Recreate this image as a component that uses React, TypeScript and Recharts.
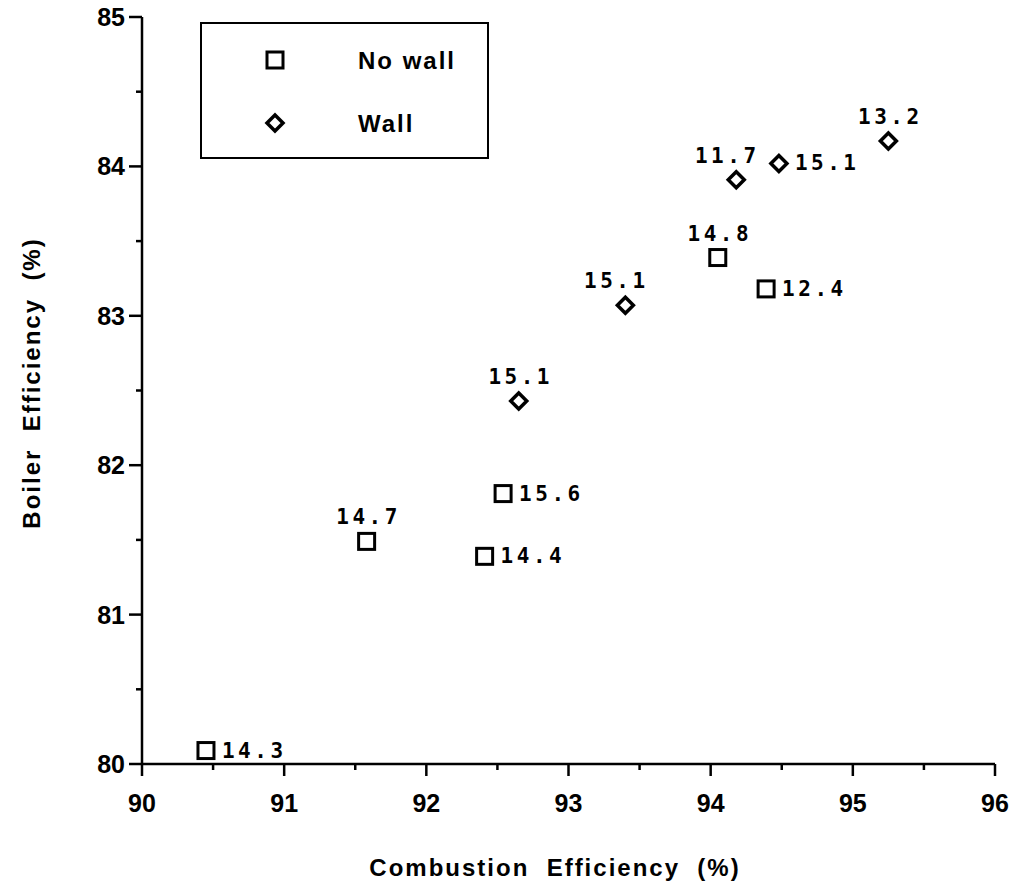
import { ScatterChart, Scatter, XAxis, YAxis } from 'recharts';

// Combustion efficiency (%) vs boiler efficiency (%), tagged with the excess-air reading
const noWallX = [90.45, 91.58, 92.41, 92.54, 94.05, 94.39];
const noWallY = [80.09, 81.49, 81.39, 81.81, 83.39, 83.18];
const noWallTag = ['14.3', '14.7', '14.4', '15.6', '14.8', '12.4'];

const wallX = [92.65, 93.4, 94.18, 94.48, 95.25];
const wallY = [82.43, 83.07, 83.91, 84.02, 84.17];
const wallTag = ['15.1', '15.1', '11.7', '15.1', '13.2'];

const xTicks = [90, 90.5, 91, 91.5, 92, 92.5, 93, 93.5, 94, 94.5, 95, 95.5, 96];
const yTicks = [80, 80.5, 81, 81.5, 82, 82.5, 83, 83.5, 84, 84.5, 85];

// where each tag sits relative to its marker
const noWallSide = ['right', 'top', 'right', 'right', 'top', 'right'];
const wallSide = ['top', 'topLeft', 'topLeft', 'right', 'top', 'top'];

const noWall = noWallX.map((x, i) => ({ x, y: noWallY[i], tag: noWallTag[i] }));
const wall = wallX.map((x, i) => ({ x, y: wallY[i], tag: wallTag[i] }));

const SANS = '"Liberation Sans", Arial, sans-serif';
const MONO = '"DejaVu Sans Mono", monospace';

const Tag = ({ cx, cy, text, side }: any) => {
  const common = {
    fontFamily: MONO,
    fontWeight: 700,
    fontSize: 21,
    letterSpacing: 3.5,
    fill: '#000',
  };
  if (side === 'right') {
    return (
      <text x={cx + 16} y={cy + 7} textAnchor="start" {...common}>
        {text}
      </text>
    );
  }
  const dx = side === 'topLeft' ? -9 : 2;
  return (
    <text x={cx + dx} y={cy - 17} textAnchor="middle" {...common}>
      {text}
    </text>
  );
};

const SquareMark = ({ cx, cy }: { cx: number; cy: number }) => (
  <rect x={cx - 8} y={cy - 8} width={16} height={16} fill="#fff" stroke="#000" strokeWidth={3} />
);

const DiamondMark = ({ cx, cy }: { cx: number; cy: number }) => (
  <path
    d={`M${cx},${cy - 8} L${cx + 8},${cy} L${cx},${cy + 8} L${cx - 8},${cy} Z`}
    fill="#fff"
    stroke="#000"
    strokeWidth={3.5}
  />
);

const noWallShape = (props: any) => (
  <g>
    <SquareMark cx={props.cx} cy={props.cy} />
    <Tag cx={props.cx} cy={props.cy} text={props.payload.tag} side={noWallSide[props.index]} />
  </g>
);

const wallShape = (props: any) => (
  <g>
    <DiamondMark cx={props.cx} cy={props.cy} />
    <Tag cx={props.cx} cy={props.cy} text={props.payload.tag} side={wallSide[props.index]} />
  </g>
);

const XTick = ({ x, y, payload }: any) => {
  const major = Number.isInteger(payload.value);
  return (
    <g>
      <line x1={x} y1={y} x2={x} y2={y + (major ? 12 : 6)} stroke="#000" strokeWidth={2.5} />
      {major && (
        <text x={x} y={y + 48} textAnchor="middle" fontFamily={SANS} fontWeight={700} fontSize={25} fill="#000">
          {payload.value}
        </text>
      )}
    </g>
  );
};

const YTick = ({ x, y, payload }: any) => {
  const major = Number.isInteger(payload.value);
  return (
    <g>
      <line x1={x} y1={y} x2={x - (major ? 13 : 6)} y2={y} stroke="#000" strokeWidth={2.5} />
      {major && (
        <text x={x - 17} y={y + 9} textAnchor="end" fontFamily={SANS} fontWeight={700} fontSize={25} fill="#000">
          {payload.value}
        </text>
      )}
    </g>
  );
};

// legend box in the upper left corner of the plot
const LegendBox = () => (
  <g>
    <rect x={201} y={23} width={287} height={135} fill="#fff" stroke="#000" strokeWidth={2} />
    <SquareMark cx={275} cy={60} />
    <DiamondMark cx={275} cy={123} />
    <text x={358} y={69} fontFamily={SANS} fontWeight={700} fontSize={24} letterSpacing={2} fill="#000">
      No wall
    </text>
    <text x={358} y={132} fontFamily={SANS} fontWeight={700} fontSize={24} letterSpacing={2} fill="#000">
      Wall
    </text>
  </g>
);

export default function App() {
  return (
    <div style={{ width: 1016, height: 890, background: '#fff', position: 'relative' }}>
      <style>{'body { margin: 0; }'}</style>
      <ScatterChart width={1016} height={890} margin={{ top: 17, right: 21, bottom: 125, left: 141 }}>
        <XAxis
          type="number"
          dataKey="x"
          domain={[90, 96]}
          ticks={xTicks}
          interval={0}
          height={1}
          tickSize={0}
          tickMargin={0}
          tickLine={false}
          axisLine={{ stroke: '#000', strokeWidth: 2.5 }}
          tick={<XTick />}
          allowDataOverflow
        />
        <YAxis
          type="number"
          dataKey="y"
          domain={[80, 85]}
          ticks={yTicks}
          interval={0}
          width={1}
          tickSize={0}
          tickMargin={0}
          tickLine={false}
          axisLine={{ stroke: '#000', strokeWidth: 2.5 }}
          tick={<YTick />}
          allowDataOverflow
        />
        <LegendBox />
        <Scatter name="No wall" data={noWall} shape={noWallShape} isAnimationActive={false} />
        <Scatter name="Wall" data={wall} shape={wallShape} isAnimationActive={false} />
        <text x={555} y={876} textAnchor="middle" fontFamily={SANS} fontWeight={700} fontSize={24} letterSpacing={2} fill="#000" style={{ whiteSpace: 'pre' }}>
          {'Combustion  Efficiency  (%)'}
        </text>
        <text
          x={40}
          y={383}
          textAnchor="middle"
          transform="rotate(-90 40 383)"
          fontFamily={SANS}
          fontWeight={700}
          fontSize={24}
          letterSpacing={2}
          fill="#000"
          style={{ whiteSpace: 'pre' }}
        >
          {'Boiler  Efficiency  (%)'}
        </text>
      </ScatterChart>
    </div>
  );
}
